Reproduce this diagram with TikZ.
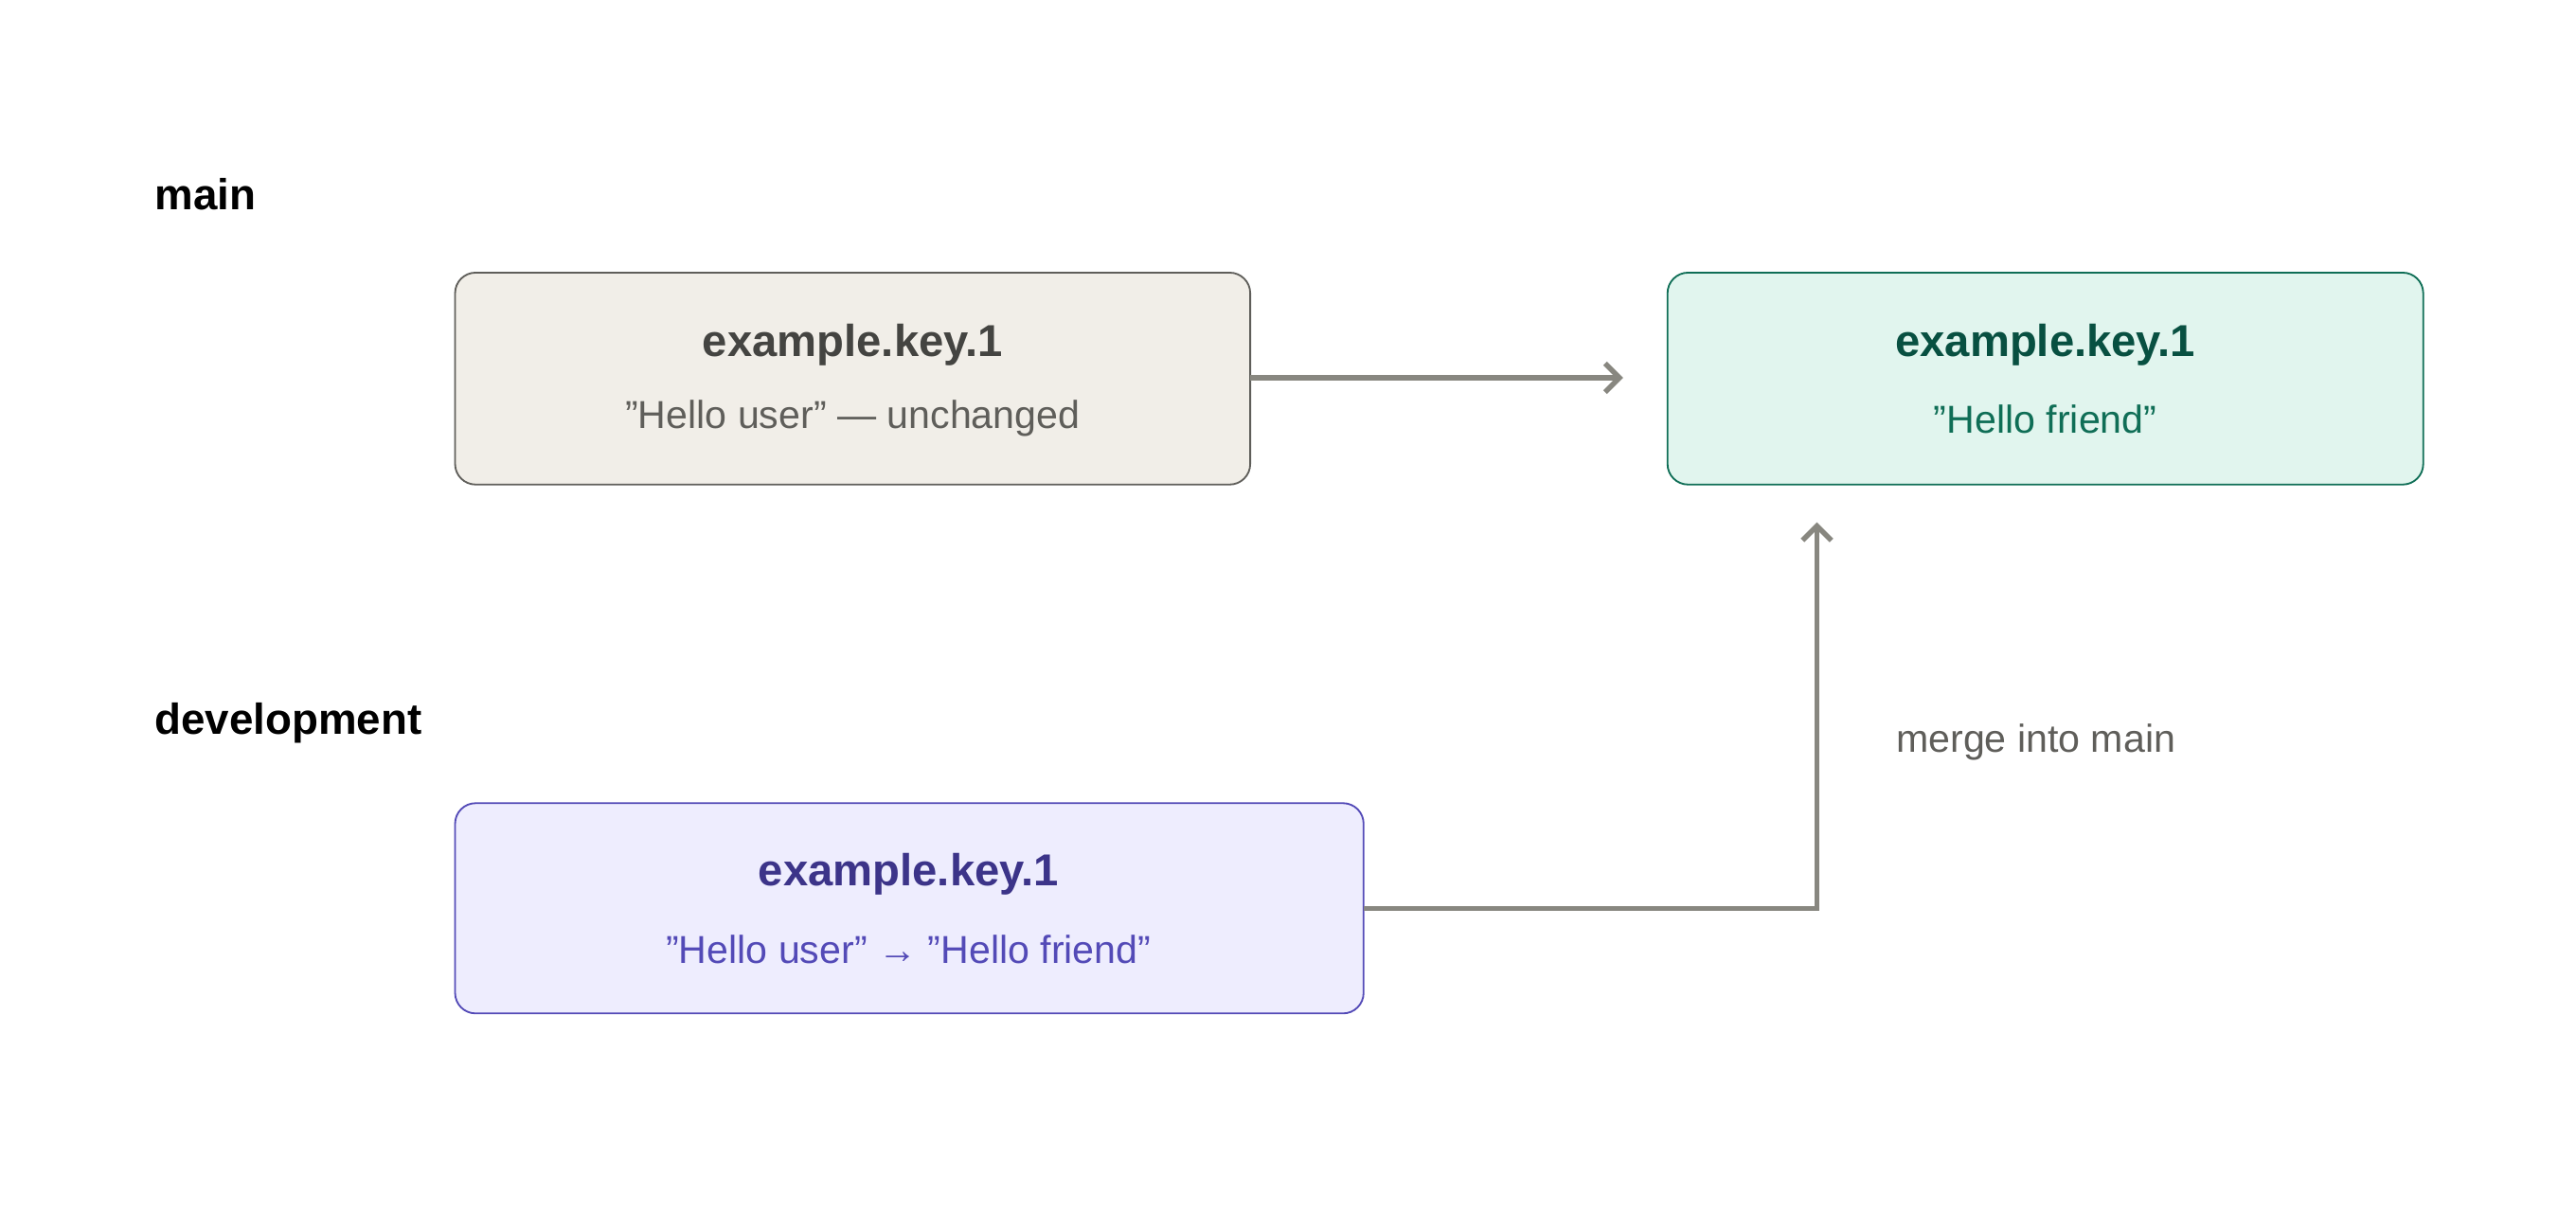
\documentclass[tikz,border=0pt]{standalone}
\usepackage{fontspec}
\setmainfont{Liberation Sans}
\usetikzlibrary{arrows.meta}
\definecolor{gbox}{HTML}{F1EEE8}\definecolor{gbd}{HTML}{5F5E5A}
\definecolor{gt}{HTML}{444441}\definecolor{gs}{HTML}{5F5E5A}
\definecolor{tbox}{HTML}{E1F5EE}\definecolor{tbd}{HTML}{0F6E56}
\definecolor{tt}{HTML}{085041}\definecolor{ts}{HTML}{0F6E56}
\definecolor{pbox}{HTML}{EEEDFE}\definecolor{pbd}{HTML}{534AB7}
\definecolor{pt}{HTML}{3C3489}\definecolor{ps}{HTML}{534AB7}
\definecolor{arr}{HTML}{888780}
\begin{document}
\begin{tikzpicture}[x=0.02cm,y=-0.02cm,
 box/.style={draw,rounded corners=0.25cm,line width=0.6pt},
 ttl/.style={font=\fontsize{15.5}{18}\selectfont\bfseries},
 sub/.style={font=\fontsize{13.5}{16}\selectfont},
 lab/.style={font=\fontsize{15}{18}\selectfont\bfseries,anchor=west},
 conn/.style={draw=arr,line width=1.8pt,-{Straight Barb[length=5pt,width=10pt]}}]
\useasboundingbox (0,0) rectangle (1568,737);
\node[lab] (lmain) at (88,118) {main};
\node[lab] (ldev) at (88,440) {development};
\draw[box,fill=gbox,draw=gbd] (277,166) rectangle (761,295);
\node[ttl,text=gt] (t1) at (519,210) {example.key.1};
\node[sub,text=gs] (s1) at (519,255) {"Hello user" — unchanged};
\draw[box,fill=tbox,draw=tbd] (1015,166) rectangle (1475,295);
\node[ttl,text=tt] (t2) at (1245,210) {example.key.1};
\node[sub,text=ts] (s2) at (1245,255) {"Hello friend"};
\draw[box,fill=pbox,draw=pbd] (277,489) rectangle (830,617);
\node[ttl,text=pt] (t3) at (553,532) {example.key.1};
\node[sub,text=ps] (s3) at (553,578) {"Hello user" → "Hello friend"};
\coordinate (b1r) at (761,230);\coordinate (b2l) at (988,230);
\coordinate (b3r) at (830,553);\coordinate (corner) at (1106,553);\coordinate (b2b) at (1106,318);
\draw[conn] (b1r) -- (b2l);
\draw[conn] (b3r) -- (corner) -- (b2b);
\node[font=\fontsize{13.5}{16}\selectfont,text=gs,anchor=west] (m) at (1148,452) {merge into main};
\end{tikzpicture}
\end{document}
